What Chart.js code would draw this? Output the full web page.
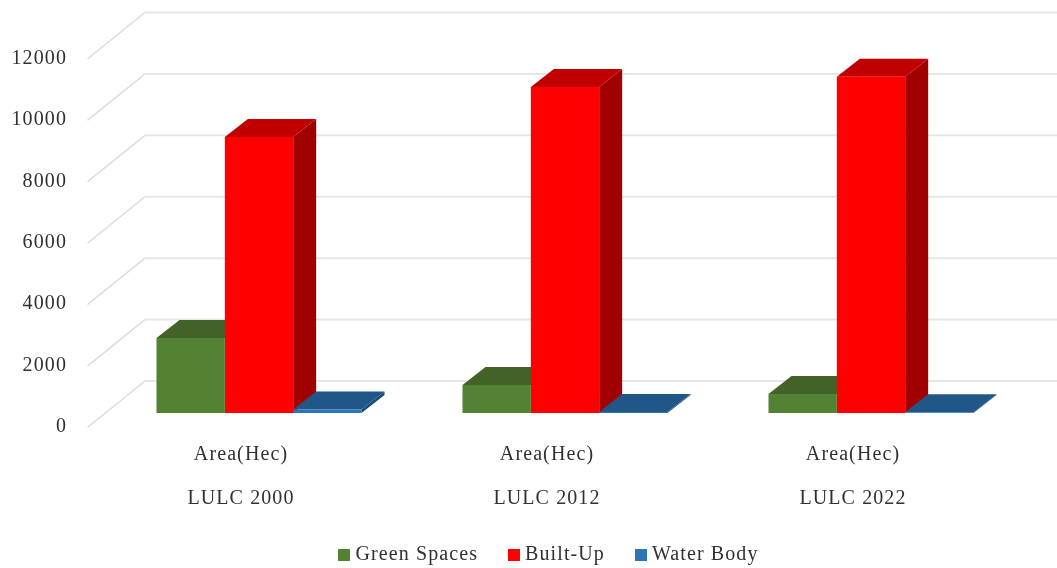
<!DOCTYPE html>
<html lang="en">

<head>
    <title>LULC Area</title>
    <meta charset="utf-8">
    <script src="https://cdn.jsdelivr.net/npm/chart.js@4/dist/chart.umd.min.js"></script>
    <style>
        html, body { margin: 0; padding: 0; background: #fff; }
        canvas { display: block; filter: blur(0.5px); }
    </style>
</head>

<body>
    <canvas id="lulc-chart" width="1057" height="568"></canvas>
    <script>
        // data
        const categories = [["Area(Hec)", "LULC 2000"], ["Area(Hec)", "LULC 2012"], ["Area(Hec)", "LULC 2022"]];
        const greenSpaces = [2440, 910, 620];
        const builtUp = [8990, 10620, 10950];
        const waterBody = [110, 30, 25];
        const seriesNames = ["Green Spaces", "Built-Up", "Water Body"];

        const frontColors = ["#548235", "#ff0000", "#2e75b6"];
        const topColors = ["#426228", "#c00000", "#215689"];
        const sideColors = ["#38541f", "#a00000", "#1c4a76"];

        const textFont = { family: "'Liberation Serif', serif", size: 20 };
        const textColor = "#303030";

        // depth of the fake 3d box
        const wallX = 57, wallY = 46;       // front plane to back wall
        const barPlaneX = 18, barPlaneY = 14; // front plane to bar front
        const barDepthX = 23, barDepthY = 18;

        function poly(ctx, color, pts) {
            ctx.fillStyle = color;
            ctx.beginPath();
            pts.forEach((p, i) => i ? ctx.lineTo(p[0], p[1]) : ctx.moveTo(p[0], p[1]));
            ctx.closePath();
            ctx.fill();
        }

        // legend swatch, so the gap to the text can be narrower than the default
        function swatch(color) {
            const c = document.createElement("canvas");
            c.width = c.height = 12;
            const g = c.getContext("2d");
            g.fillStyle = color;
            g.fillRect(0, 0, 12, 12);
            return c;
        }

        const box3d = {
            id: "box3d",
            beforeUpdate(chart) {
                chart.ctx.letterSpacing = "1.1px";
            },
            afterLayout(chart) {
                // legend sits right of centre in the original
                chart.legend.left += 48;
                chart.legend.right += 48;
            },
            beforeDraw(chart) {
                const ctx = chart.ctx;
                ctx.letterSpacing = "1.1px";
                const y = chart.scales.y, area = chart.chartArea;
                // grid: diagonal on the side wall, then along the back wall
                ctx.save();
                y.ticks.forEach(t => {
                    const py = y.getPixelForValue(t.value);
                    ctx.lineCap = "round";
                    ctx.strokeStyle = "#dcdcdc";
                    ctx.lineWidth = 1.5;
                    ctx.beginPath();
                    ctx.moveTo(area.left, py);
                    ctx.lineTo(area.left + wallX, py - wallY);
                    ctx.stroke();
                    ctx.strokeStyle = "#e6e6e6";
                    ctx.lineWidth = 2;
                    ctx.beginPath();
                    ctx.moveTo(area.left + wallX, py - wallY);
                    ctx.lineTo(area.right + wallX, py - wallY);
                    ctx.stroke();
                });
                ctx.restore();
            },
            beforeDatasetsDraw(chart) {
                const ctx = chart.ctx;
                ctx.save();
                ctx.translate(barPlaneX, -barPlaneY);
                // tops and sides first, the library then paints the fronts over them
                chart.data.datasets.forEach((ds, i) => {
                    chart.getDatasetMeta(i).data.forEach(bar => {
                        const l = bar.x - bar.width / 2, r = bar.x + bar.width / 2;
                        poly(ctx, sideColors[i], [[r, bar.y], [r + barDepthX, bar.y - barDepthY], [r + barDepthX, bar.base - barDepthY], [r, bar.base]]);
                        poly(ctx, topColors[i], [[l, bar.y], [l + barDepthX, bar.y - barDepthY], [r + barDepthX, bar.y - barDepthY], [r, bar.y]]);
                    });
                });
            },
            afterDatasetsDraw(chart) {
                chart.ctx.restore();
            }
        };

        new Chart(document.getElementById("lulc-chart"), {
            type: "bar",
            plugins: [box3d],
            data: {
                labels: categories,
                datasets: [
                    { label: seriesNames[0], data: greenSpaces, backgroundColor: frontColors[0] },
                    { label: seriesNames[1], data: builtUp, backgroundColor: frontColors[1] },
                    { label: seriesNames[2], data: waterBody, backgroundColor: frontColors[2] }
                ]
            },
            options: {
                responsive: false,
                animation: false,
                devicePixelRatio: 1,
                layout: { padding: { top: 58.5, right: 51, bottom: -7, left: 0 } },
                datasets: { bar: { categoryPercentage: 0.67, barPercentage: 1, clip: false } },
                scales: {
                    x: {
                        grid: { display: false },
                        border: { display: false },
                        afterFit(s) { s.height = 83; },
                        ticks: { font: { ...textFont, lineHeight: 2.2 }, color: textColor, maxRotation: 0, autoSkip: false, padding: -2 }
                    },
                    y: {
                        min: 0,
                        max: 12000,
                        grid: { display: false },
                        border: { display: false },
                        afterFit(s) { s.width = 88; },
                        ticks: { stepSize: 2000, font: textFont, color: textColor, padding: 13, callback: v => String(v) }
                    }
                },
                plugins: {
                    tooltip: { enabled: false },
                    legend: {
                        position: "bottom",
                        labels: {
                            font: textFont,
                            color: textColor,
                            usePointStyle: true,
                            pointStyleWidth: 2,
                            boxHeight: 12,
                            padding: 35,
                            generateLabels(chart) {
                                return Chart.defaults.plugins.legend.labels.generateLabels(chart)
                                    .map((item, i) => ({ ...item, pointStyle: swatch(frontColors[i]) }));
                            }
                        }
                    }
                }
            }
        });
    </script>
</body>

</html>
